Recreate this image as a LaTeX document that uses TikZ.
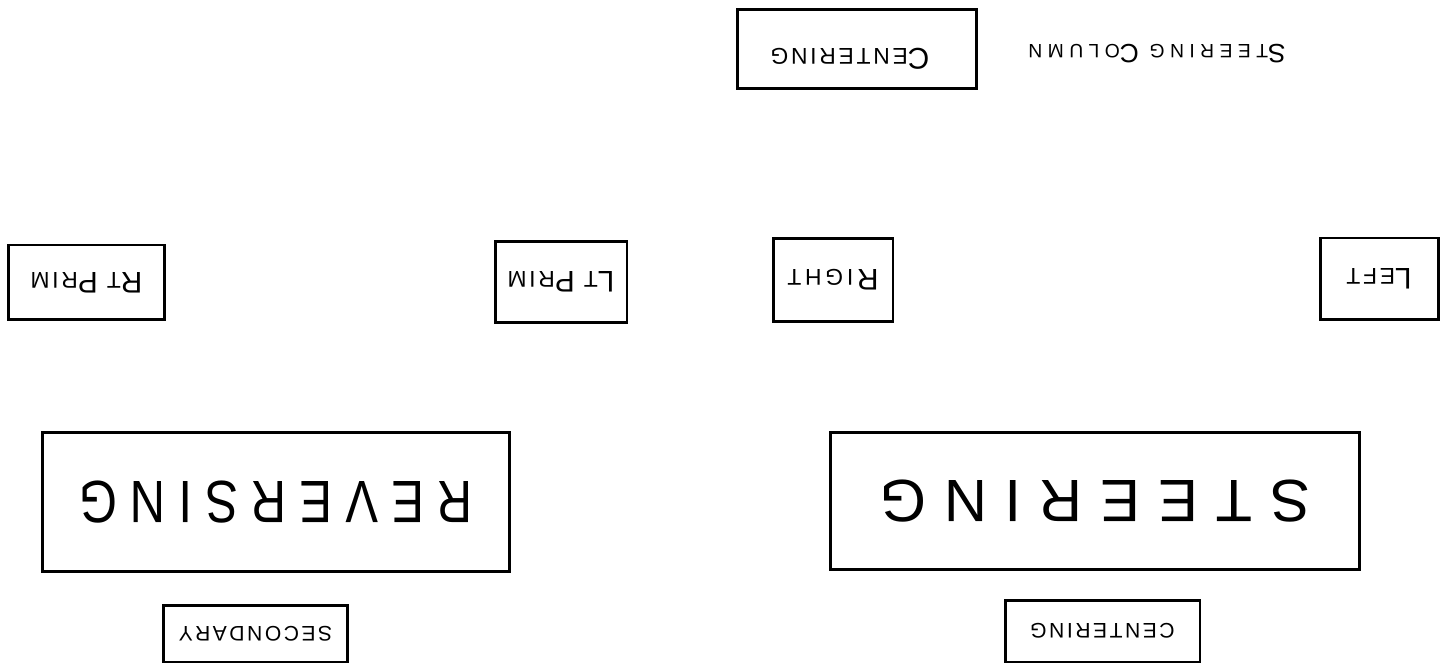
\documentclass[tikz,border=0pt]{standalone}
\usepackage{fontspec}
\setmainfont{Liberation Sans}
\newfontfamily\revfont[LetterSpace=22,FakeStretch=0.82]{Liberation Sans}
\newfontfamily\stfont[LetterSpace=30]{Liberation Sans}
\newfontfamily\smallfont[LetterSpace=12]{Liberation Sans}
\newfontfamily\colfont[LetterSpace=28]{Liberation Sans}
\newcommand\capA[1]{{\fontsize{17}{17}\selectfont #1}}
\newcommand\capB[1]{{\fontsize{15}{15}\selectfont #1}}
\begin{document}
\begin{tikzpicture}[x=0.02cm,y=-0.02cm]
\tikzset{
  sketch/.style={draw, line width=1.7pt, rotate=180, inner sep=0pt},
  revtxt/.style={font=\revfont\fontsize{34}{34}\selectfont},
  sttxt/.style={font=\stfont\fontsize{34}{34}\selectfont},
  smtxt/.style={font=\smallfont\fontsize{13}{13}\selectfont},
  lowtxt/.style={font=\smallfont\fontsize{12}{12}\selectfont},
  coltxt/.style={font=\colfont\fontsize{11}{11}\selectfont},
  label/.style={rotate=180, inner sep=0pt},
}
\useasboundingbox (0,0) rectangle (1453,665);
\fill[white] (0,0) rectangle (1453,665);

\node[sketch, minimum width=4.8cm, minimum height=1.58cm] (centop) at (857,49) {};
\node[label, smtxt] (centoptxt) at (850,59) {\capA{C}ENTERING};
\node[label, coltxt] (stcol) at (1157,54) {\capB{S}TEERING \capB{C}OLUMN};

\node[sketch, smtxt, minimum width=3.14cm, minimum height=1.5cm] (rtprim) at (86.5,282.5) {\capA{R}T \capA{P}RIM};
\node[sketch, smtxt, minimum width=2.64cm, minimum height=1.62cm] (ltprim) at (561,282) {\capA{L}T \capA{P}RIM};
\node[sketch, smtxt, minimum width=2.4cm, minimum height=1.68cm] (right) at (833,280) {\capA{R}\,I\,G\,H\,T};
\node[sketch, smtxt, minimum width=2.36cm, minimum height=1.64cm] (left) at (1379,279) {\capA{L}EFT};

\node[sketch, revtxt, minimum width=9.36cm, minimum height=2.8cm] (reversing) at (276,502) {REVERSING};
\node[sketch, sttxt, minimum width=10.6cm, minimum height=2.76cm] (steering) at (1095,501) {STEERING};

\node[sketch, lowtxt, minimum width=3.7cm, minimum height=1.14cm] (secondary) at (255.5,633.5) {SECONDARY};
\node[sketch, lowtxt, minimum width=3.9cm, minimum height=1.24cm] (cenbot) at (1102.5,631) {CENTERING};
\end{tikzpicture}
\end{document}
